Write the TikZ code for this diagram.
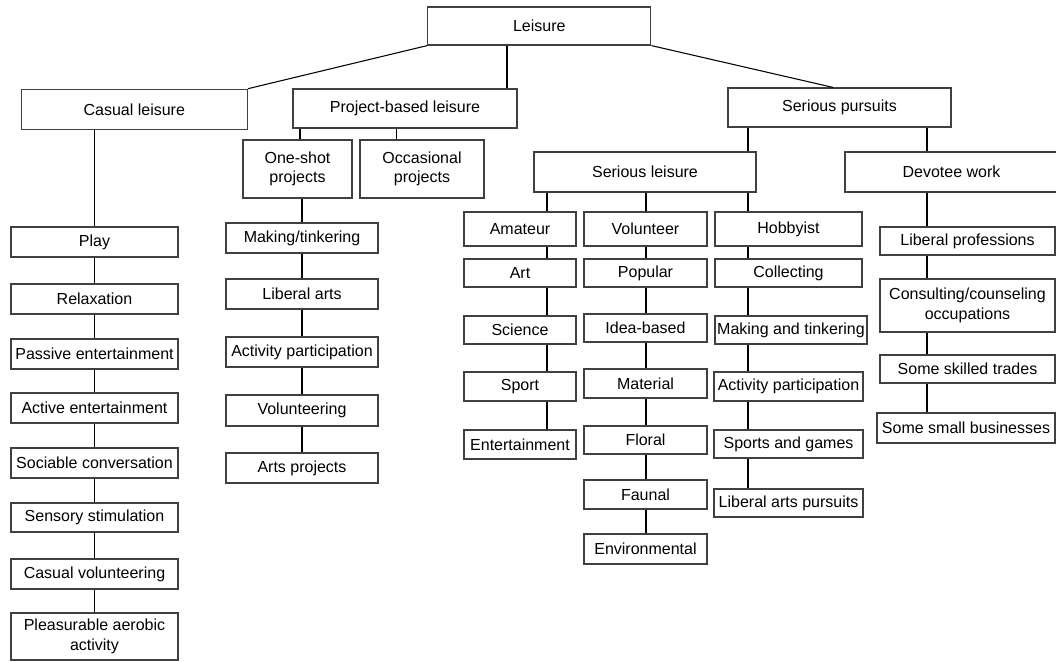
\documentclass[tikz,border=0pt]{standalone}
\usepackage{fontspec}
\setmainfont{Liberation Sans}
\begin{document}
\begin{tikzpicture}[x=.75pt,y=-.75pt,
    bx/.style={draw=black!75,line width=.9pt,rectangle,inner sep=1pt,align=center,
      font=\fontsize{12}{14.5}\selectfont},
    wh/.style 2 args={minimum width=#1*.75pt,minimum height=#2*.75pt}]
  \useasboundingbox (0,0) rectangle (1056,661);
  \path
    (539.3,26) node[bx,wh={223}{38}] (leis){Leisure}
    (134.3,109.3) node[bx,wh={226}{40}] (cas){Casual leisure}
    (405,108.5) node[bx,wh={224}{39}] (proj){Project-based leisure}
    (839.5,107.5) node[bx,wh={223}{39}] (sp){Serious pursuits}
    (297.5,169) node[bx,wh={109}{58}] (one){One-shot\\projects}
    (422,169) node[bx,wh={124}{58}] (occ){Occasional\\projects}
    (645,172) node[bx,wh={222}{40}] (sl){Serious leisure}
    (951.5,172) node[bx,wh={213}{40}] (dev){Devotee work};
  % casual leisure
  \path
    (94.5,242) node[bx,wh={167}{30}] (play){Play}
    (94.5,299) node[bx,wh={167}{30}] (relax){Relaxation}
    (94.5,354) node[bx,wh={167}{30}] (pass){Passive entertainment}
    (94.5,408) node[bx,wh={167}{30}] (act){Active entertainment}
    (94.5,463) node[bx,wh={167}{30}] (soc){Sociable conversation}
    (94.5,517.5) node[bx,wh={167}{29}] (sens){Sensory stimulation}
    (94.5,574) node[bx,wh={167}{30}] (cvol){Casual volunteering}
    (94.5,636.5) node[bx,wh={167}{47}] (aer){Pleasurable aerobic\\activity};
  % project-based leisure
  \path
    (302,238) node[bx,wh={152}{30}] (mt){Making/tinkering}
    (302,294) node[bx,wh={152}{30}] (la){Liberal arts}
    (302,352) node[bx,wh={152}{30}] (ap){Activity participation}
    (302,410.5) node[bx,wh={152}{31}] (vol){Volunteering}
    (302,468) node[bx,wh={152}{30}] (arts){Arts projects};
  % serious leisure
  \path
    (520,229) node[bx,wh={112}{34}] (am){Amateur}
    (520,273) node[bx,wh={112}{28}] (art){Art}
    (520,330) node[bx,wh={112}{28}] (sci){Science}
    (520,386.5) node[bx,wh={112}{29}] (spo){Sport}
    (520,444.5) node[bx,wh={112}{29}] (ent){Entertainment}
    (645.5,229) node[bx,wh={123}{34}] (vo){Volunteer}
    (645.5,273) node[bx,wh={123}{28}] (pop){Popular}
    (645.5,328) node[bx,wh={123}{28}] (idea){Idea-based}
    (645.5,383.5) node[bx,wh={123}{29}] (mat){Material}
    (645.5,440) node[bx,wh={123}{28}] (flo){Floral}
    (645.5,494.5) node[bx,wh={123}{29}] (fau){Faunal}
    (645.5,549) node[bx,wh={123}{30}] (env){Environmental}
    (788.5,229) node[bx,wh={147}{34}] (hob){Hobbyist}
    (788.5,273) node[bx,wh={147}{28}] (coll){Collecting}
    (791,330) node[bx,wh={152}{28}] (mkt){Making and tinkering}
    (788.5,386.5) node[bx,wh={149}{29}] (hap){Activity participation}
    (788.5,444) node[bx,wh={149}{28}] (sg){Sports and games}
    (788.5,503) node[bx,wh={149}{28}] (lap){Liberal arts pursuits};
  % devotee work
  \path
    (967.5,241) node[bx,wh={175}{28}] (lp){Liberal professions}
    (967.5,305.5) node[bx,wh={175}{53}] (cons){Consulting/counseling\\occupations}
    (967.5,369) node[bx,wh={175}{28}] (st){Some skilled trades}
    (966,428) node[bx,wh={178}{30}] (sb){Some small businesses};
  % x of the vertical links
  \coordinate (xpb) at (507,0);
  \coordinate (xone) at (300,0);
  \coordinate (xocc) at (396.5,0);
  \coordinate (xsl) at (748,0);
  \coordinate (xdev) at (927,0);
  \coordinate (xam) at (547,0);
  \coordinate (xvo) at (646,0);
  \begin{scope}[line width=.8pt]
    \draw (leis.south west) to (cas.north east);
    \draw (leis.south -| xpb) to (proj.north -| xpb);
    \draw (leis.south east) to ([xshift=-4.9pt]sp.north);
    \draw (cas.south -| play) to (play.north);
    \draw (play) to (relax);
    \draw (relax) to (pass);
    \draw (pass) to (act);
    \draw (act) to (soc);
    \draw (soc) to (sens);
    \draw (sens) to (cvol);
    \draw (cvol) to (aer);
    \draw (proj.south -| xone) to (one.north -| xone);
    \draw (proj.south -| xocc) to (occ.north -| xocc);
    \draw (one.south -| mt) to (mt.north);
    \draw (mt) to (la);
    \draw (la) to (ap);
    \draw (ap) to (vol);
    \draw (vol) to (arts);
    \draw (sp.south -| xsl) to (sl.north -| xsl);
    \draw (sp.south -| xdev) to (dev.north -| xdev);
    \draw (sl.south -| xam) to (am.north -| xam);
    \draw (am.south -| xam) to (art.north -| xam);
    \draw (art.south -| xam) to (sci.north -| xam);
    \draw (sci.south -| xam) to (spo.north -| xam);
    \draw (spo.south -| xam) to (ent.north -| xam);
    \draw (sl.south -| xvo) to (vo.north -| xvo);
    \draw (vo.south -| xvo) to (pop.north -| xvo);
    \draw (pop.south -| xvo) to (idea.north -| xvo);
    \draw (idea.south -| xvo) to (mat.north -| xvo);
    \draw (mat.south -| xvo) to (flo.north -| xvo);
    \draw (flo.south -| xvo) to (fau.north -| xvo);
    \draw (fau.south -| xvo) to (env.north -| xvo);
    \draw (sl.south -| xsl) to (hob.north -| xsl);
    \draw (hob.south -| xsl) to (coll.north -| xsl);
    \draw (coll.south -| xsl) to (mkt.north -| xsl);
    \draw (mkt.south -| xsl) to (hap.north -| xsl);
    \draw (hap.south -| xsl) to (sg.north -| xsl);
    \draw (sg.south -| xsl) to (lap.north -| xsl);
    \draw (dev.south -| xdev) to (lp.north -| xdev);
    \draw (lp.south -| xdev) to (cons.north -| xdev);
    \draw (cons.south -| xdev) to (st.north -| xdev);
    \draw (st.south -| xdev) to (sb.north -| xdev);
  \end{scope}
\end{tikzpicture}
\end{document}
